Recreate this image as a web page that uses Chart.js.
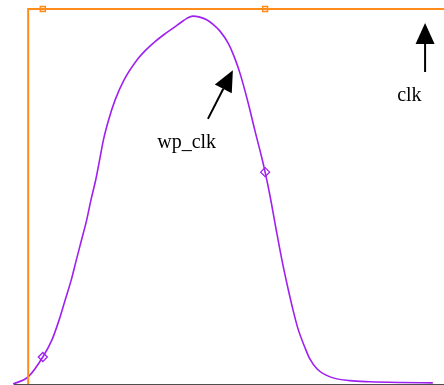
<!DOCTYPE html>
<html>
<head>
<meta charset="utf-8">
<script src="https://cdn.jsdelivr.net/npm/chart.js@4/dist/chart.umd.min.js"></script>
<style>
  body { margin: 0; background: #fff; }
  #wrap { width: 444px; height: 385px; }
</style>
</head>
<body>
<div id="wrap"><canvas id="chart" width="444" height="385"></canvas></div>
<script>
// time in ns, level normalised to the supply (0..1)
var clkTime = [0.33, 0.33, 0.67, 5.84, 10.0];
var clkLevel = [0.0, 1.0, 1.0, 1.0, 1.0];

var wpTime = [-0.02, 0.33, 0.67, 0.88, 1.05, 1.19, 1.33, 1.45, 1.57, 1.69, 1.79, 1.90,
  1.99, 2.08, 2.20, 2.35, 2.56, 2.86, 3.07, 3.28, 3.49, 3.70, 3.88, 4.02, 4.16,
  4.30, 4.47, 4.63, 4.79, 4.98, 5.14, 5.26, 5.44, 5.60, 5.77, 5.84, 5.95, 6.09, 6.23,
  6.37, 6.49, 6.60, 6.77, 6.88, 7.05, 7.35, 7.81, 8.28, 8.98, 9.74];
var wpLevel = [0.000, 0.019, 0.072, 0.117, 0.171, 0.224, 0.277, 0.331, 0.384, 0.437, 0.491, 0.544,
  0.597, 0.651, 0.704, 0.757, 0.811, 0.864, 0.891, 0.913, 0.932, 0.949, 0.964, 0.975, 0.981,
  0.979, 0.972, 0.959, 0.941, 0.909, 0.867, 0.827, 0.752, 0.677, 0.600, 0.565, 0.504, 0.416, 0.331,
  0.256, 0.197, 0.149, 0.096, 0.067, 0.040, 0.019, 0.009, 0.006, 0.004, 0.003];

// sample instants that get a marker on each trace
var markerTimes = [0.67, 5.84];

// labels with arrows: text anchor + arrow tail/tip, all in data units
var labels = [
  { text: 'clk', x: 8.91, y: 0.755, tail: [9.56, 0.832], tip: [9.56, 0.963] },
  { text: 'wp_clk', x: 3.33, y: 0.629, tail: [4.51, 0.707], tip: [5.09, 0.837] }
];

function toPoints(xs, ys) {
  return xs.map(function (x, i) { return { x: x, y: ys[i] }; });
}

function markerRadius(r) {
  return function (ctx) {
    var raw = ctx.raw;
    if (!raw) return 0;
    for (var i = 0; i < markerTimes.length; i++) {
      if (Math.abs(raw.x - markerTimes[i]) < 1e-6) return r;
    }
    return 0;
  };
}

var CLK = '#ff8c1a';
var WP = '#a020f0';

var annotate = {
  id: 'annotate',
  beforeDatasetsDraw: function (chart) {
    var c = chart.ctx, a = chart.chartArea, ys = chart.scales.y;
    var y0 = Math.round(ys.getPixelForValue(0)) + 0.5;
    c.save();
    c.strokeStyle = '#505050';
    c.lineWidth = 1;
    c.beginPath();
    c.moveTo(a.left, y0);
    c.lineTo(a.right, y0);
    c.stroke();
    c.restore();
  },
  afterDatasetsDraw: function (chart) {
    var c = chart.ctx, xs = chart.scales.x, ys = chart.scales.y;
    c.save();
    c.fillStyle = '#000';
    c.strokeStyle = '#000';
    c.font = '20px "Liberation Serif", "Times New Roman", serif';
    c.textBaseline = 'alphabetic';
    c.textAlign = 'left';
    labels.forEach(function (l) {
      c.fillText(l.text, xs.getPixelForValue(l.x), ys.getPixelForValue(l.y));
      var tx = xs.getPixelForValue(l.tail[0]), ty = ys.getPixelForValue(l.tail[1]);
      var hx = xs.getPixelForValue(l.tip[0]), hy = ys.getPixelForValue(l.tip[1]);
      var dx = hx - tx, dy = hy - ty, len = Math.sqrt(dx * dx + dy * dy);
      var ux = dx / len, uy = dy / len;
      var headLen = 21, half = 9.5;
      var bx = hx - ux * headLen, by = hy - uy * headLen;
      c.lineWidth = 2;
      c.beginPath();
      c.moveTo(tx, ty);
      c.lineTo(bx, by);
      c.stroke();
      c.beginPath();
      c.moveTo(hx, hy);
      c.lineTo(bx - uy * half, by + ux * half);
      c.lineTo(bx + uy * half, by - ux * half);
      c.closePath();
      c.fill();
    });
    c.restore();
  }
};

new Chart(document.getElementById('chart'), {
  type: 'line',
  data: {
    datasets: [
      {
        label: 'clk',
        data: toPoints(clkTime, clkLevel),
        borderColor: CLK,
        borderWidth: 2,
        tension: 0,
        clip: false,
        pointStyle: 'rect',
        pointRadius: markerRadius(3.5),
        pointBackgroundColor: 'rgba(255,255,255,0)',
        pointBorderColor: CLK,
        pointBorderWidth: 1.5
      },
      {
        label: 'wp_clk',
        data: toPoints(wpTime, wpLevel),
        borderColor: WP,
        borderWidth: 1.6,
        cubicInterpolationMode: 'monotone',
        clip: false,
        pointStyle: 'rectRot',
        pointRadius: markerRadius(4.5),
        pointBackgroundColor: 'rgba(255,255,255,0)',
        pointBorderColor: WP,
        pointBorderWidth: 1.3
      }
    ]
  },
  options: {
    responsive: false,
    devicePixelRatio: 1,
    animation: false,
    layout: { padding: { left: 14, top: 0, right: 0, bottom: 1 } },
    plugins: { legend: { display: false }, tooltip: { enabled: false } },
    scales: {
      x: { type: 'linear', display: false, min: 0, max: 10 },
      y: { type: 'linear', display: false, min: 0, max: 1.024 }
    }
  },
  plugins: [annotate]
});
</script>
</body>
</html>
